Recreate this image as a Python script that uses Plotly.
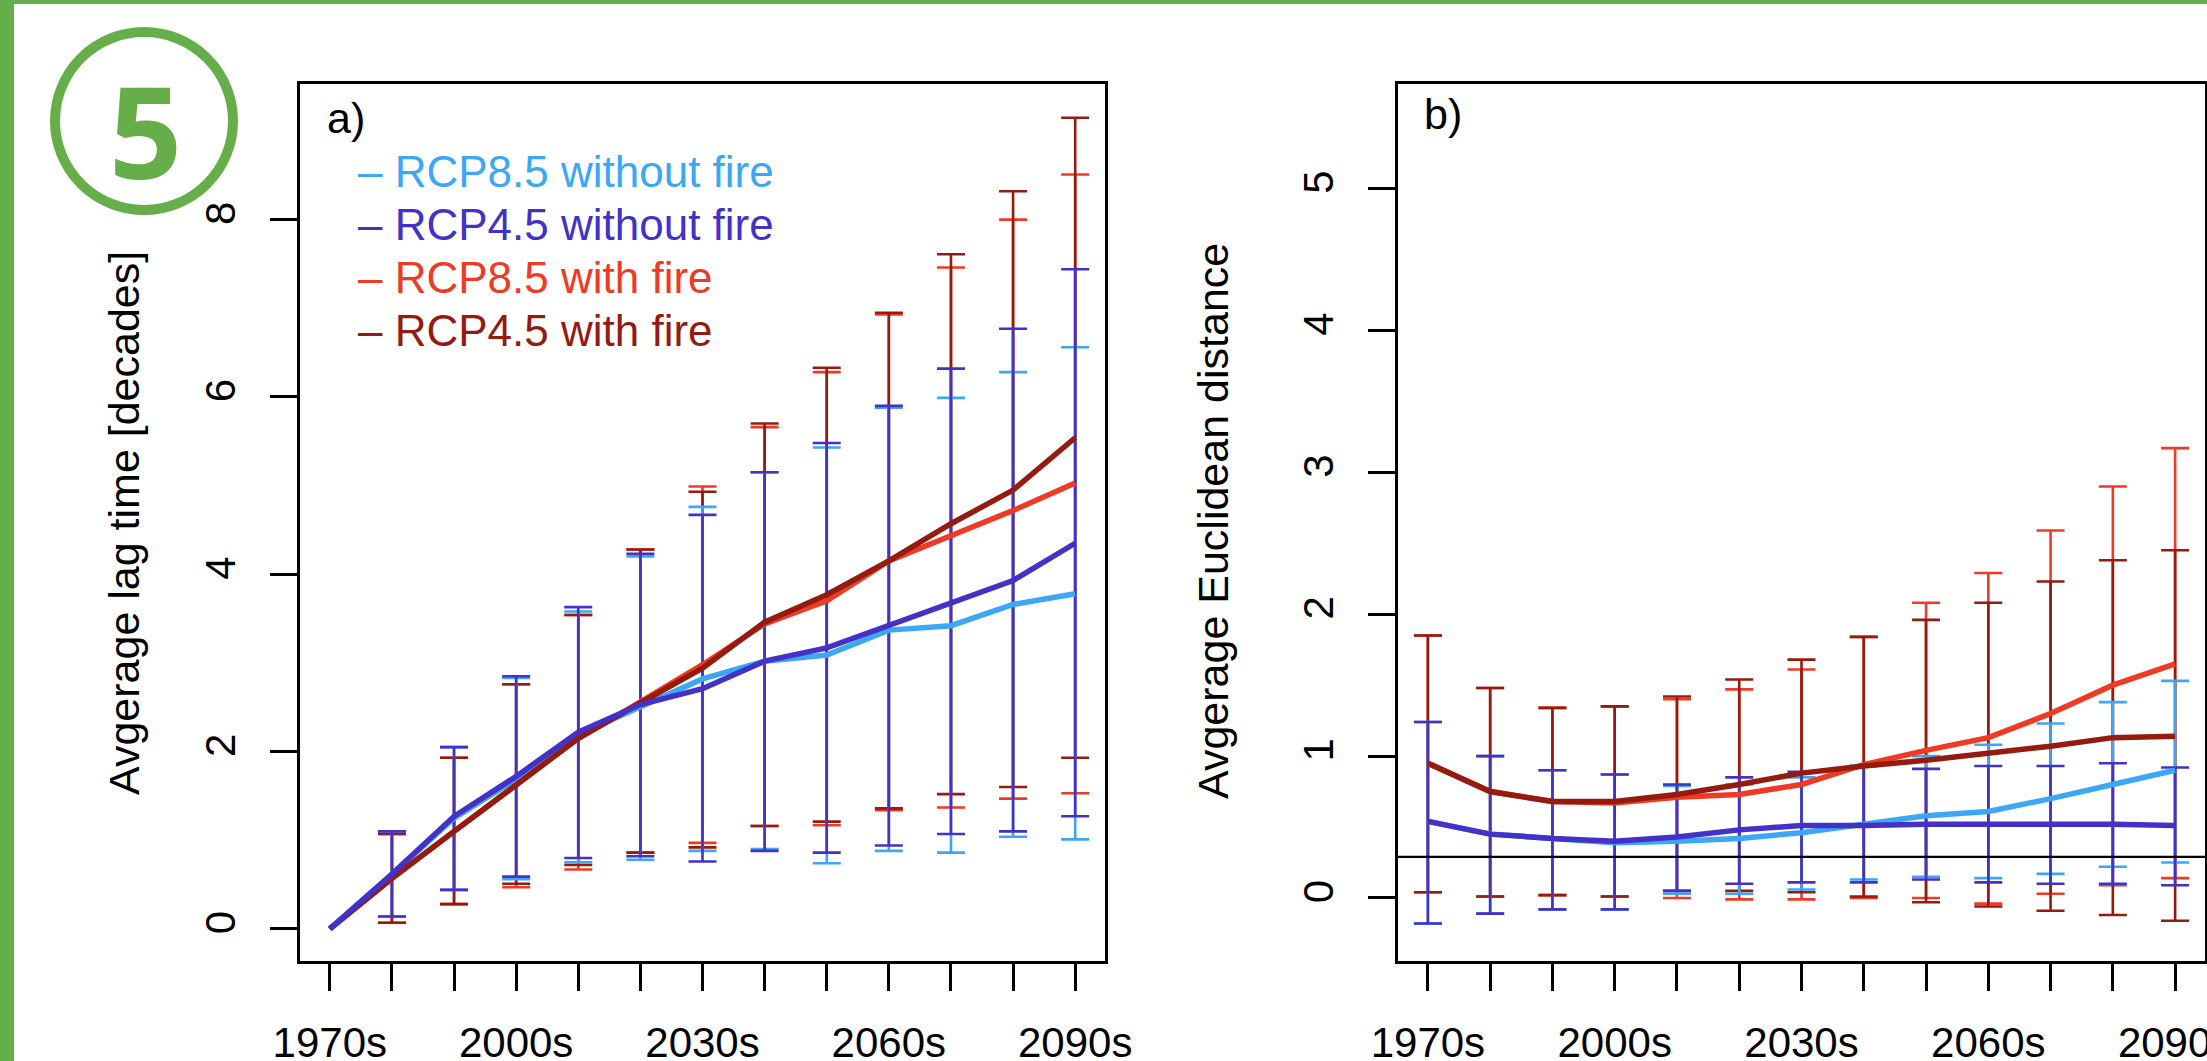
import plotly.graph_objects as go

W, H = 2207, 1061

decades = ["1970s", "1980s", "1990s", "2000s", "2010s", "2020s", "2030s",
           "2040s", "2050s", "2060s", "2070s", "2080s", "2090s"]
shown_labels = ["1970s", "2000s", "2030s", "2060s", "2090s"]

series_names = ["RCP8.5 without fire", "RCP4.5 without fire",
                "RCP8.5 with fire", "RCP4.5 with fire"]
series_colors = ["#3BA7F6", "#4331C8", "#F03A24", "#951B10"]

# ---- panel a: average lag time [decades] ----
lag_rcp85_nofire = [0, 0.61, 1.25, 1.69, 2.19, 2.51, 2.82, 3.02, 3.09, 3.37, 3.42, 3.66, 3.78]
lag_rcp45_nofire = [0, 0.62, 1.27, 1.72, 2.22, 2.53, 2.71, 3.02, 3.17, 3.42, 3.68, 3.93, 4.35]
lag_rcp85_fire = [0, 0.57, 1.10, 1.62, 2.15, 2.56, 2.98, 3.44, 3.70, 4.15, 4.43, 4.72, 5.03]
lag_rcp45_fire = [0, 0.57, 1.10, 1.62, 2.15, 2.55, 2.94, 3.46, 3.77, 4.15, 4.57, 4.95, 5.54]

lag_up_rcp85_nofire = [None, 1.10, 2.05, 2.83, 3.58, 4.20, 4.76, 5.15, 5.43, 5.88, 5.99, 6.28, 6.56]
lag_up_rcp45_nofire = [None, 1.10, 2.05, 2.85, 3.63, 4.23, 4.67, 5.15, 5.48, 5.90, 6.32, 6.77, 7.44]
lag_up_rcp85_fire = [None, 1.07, 1.93, 2.76, 3.54, 4.28, 4.99, 5.66, 6.28, 6.93, 7.46, 8.00, 8.51]
lag_up_rcp45_fire = [None, 1.07, 1.93, 2.76, 3.54, 4.28, 4.93, 5.70, 6.33, 6.95, 7.61, 8.32, 9.15]

lag_lo_rcp85_nofire = [None, 0.14, 0.44, 0.56, 0.75, 0.78, 0.88, 0.90, 0.74, 0.88, 0.86, 1.04, 1.01]
lag_lo_rcp45_nofire = [None, 0.14, 0.44, 0.59, 0.80, 0.82, 0.76, 0.88, 0.86, 0.94, 1.07, 1.10, 1.27]
lag_lo_rcp85_fire = [None, 0.07, 0.28, 0.47, 0.67, 0.86, 0.97, 1.16, 1.17, 1.34, 1.37, 1.47, 1.53]
lag_lo_rcp45_fire = [None, 0.07, 0.28, 0.51, 0.72, 0.86, 0.92, 1.16, 1.21, 1.36, 1.52, 1.60, 1.93]

# ---- panel b: average Euclidean distance ----
dist_rcp85_nofire = [0.54, 0.45, 0.42, 0.39, 0.40, 0.42, 0.46, 0.52, 0.58, 0.61, 0.70, 0.80, 0.90]
dist_rcp45_nofire = [0.54, 0.45, 0.42, 0.40, 0.43, 0.48, 0.51, 0.51, 0.52, 0.52, 0.52, 0.52, 0.51]
dist_rcp85_fire = [0.95, 0.75, 0.68, 0.67, 0.71, 0.73, 0.80, 0.94, 1.04, 1.13, 1.30, 1.50, 1.65]
dist_rcp45_fire = [0.95, 0.75, 0.68, 0.68, 0.73, 0.80, 0.88, 0.93, 0.97, 1.02, 1.07, 1.13, 1.14]

dist_up_rcp85_nofire = [1.24, 1.00, 0.90, 0.87, 0.79, 0.80, 0.85, 0.93, 1.00, 1.08, 1.23, 1.38, 1.53]
dist_up_rcp45_nofire = [1.24, 1.00, 0.90, 0.87, 0.80, 0.85, 0.89, 0.93, 0.91, 0.93, 0.93, 0.95, 0.92]
dist_up_rcp85_fire = [1.85, 1.48, 1.34, 1.35, 1.40, 1.47, 1.61, 1.84, 2.08, 2.29, 2.59, 2.90, 3.17]
dist_up_rcp45_fire = [1.85, 1.48, 1.34, 1.35, 1.42, 1.54, 1.68, 1.84, 1.96, 2.08, 2.23, 2.38, 2.45]

dist_lo_rcp85_nofire = [-0.18, -0.11, -0.08, -0.08, 0.03, 0.03, 0.06, 0.13, 0.15, 0.14, 0.17, 0.22, 0.25]
dist_lo_rcp45_nofire = [-0.18, -0.11, -0.08, -0.08, 0.05, 0.10, 0.11, 0.11, 0.13, 0.11, 0.10, 0.10, 0.09]
dist_lo_rcp85_fire = [0.04, 0.01, 0.02, 0.01, 0.00, -0.01, -0.01, 0.00, 0.00, -0.04, 0.03, 0.09, 0.14]
dist_lo_rcp45_fire = [0.04, 0.01, 0.02, 0.01, 0.05, 0.05, 0.04, 0.01, -0.03, -0.06, -0.09, -0.12, -0.16]

dist_reference_level = 0.29

FONT = "Liberation Sans, Arial, Helvetica, sans-serif"
GREEN = "#66AE4A"

xidx = list(range(len(decades)))
ticktext = [d if d in shown_labels else "" for d in decades]

panel_a = dict(
    means=[lag_rcp85_nofire, lag_rcp45_nofire, lag_rcp85_fire, lag_rcp45_fire],
    ups=[lag_up_rcp85_nofire, lag_up_rcp45_nofire, lag_up_rcp85_fire, lag_up_rcp45_fire],
    los=[lag_lo_rcp85_nofire, lag_lo_rcp45_nofire, lag_lo_rcp85_fire, lag_lo_rcp45_fire],
)
panel_b = dict(
    means=[dist_rcp85_nofire, dist_rcp45_nofire, dist_rcp85_fire, dist_rcp45_fire],
    ups=[dist_up_rcp85_nofire, dist_up_rcp45_nofire, dist_up_rcp85_fire, dist_up_rcp45_fire],
    los=[dist_lo_rcp85_nofire, dist_lo_rcp45_nofire, dist_lo_rcp85_fire, dist_lo_rcp45_fire],
)

fig = go.Figure()

err_order = [2, 3, 0, 1]   # red, dark red, light blue, blue (blue on top)
line_order = [0, 2, 3, 1]

for panel, xa, ya in [(panel_a, "x", "y"), (panel_b, "x2", "y2")]:
    for k in err_order:
        m, u, lo = panel["means"][k], panel["ups"][k], panel["los"][k]
        keep = [i for i in xidx if u[i] is not None and lo[i] is not None]
        fig.add_trace(go.Scatter(
            x=[xidx[i] for i in keep], y=[m[i] for i in keep],
            mode="markers", marker=dict(size=1, opacity=0, color=series_colors[k]),
            error_y=dict(type="data", symmetric=False,
                         array=[u[i] - m[i] for i in keep],
                         arrayminus=[m[i] - lo[i] for i in keep],
                         color=series_colors[k], thickness=2.6, width=14),
            xaxis=xa, yaxis=ya, showlegend=False, hoverinfo="skip"))
    for k in line_order:
        fig.add_trace(go.Scatter(
            x=xidx, y=panel["means"][k], mode="lines",
            line=dict(color=series_colors[k], width=5.5),
            name=series_names[k], xaxis=xa, yaxis=ya, showlegend=False))

ydom = [1 - 961 / H, 1 - 84 / H]
xa_dom = [300 / W, 1105 / W]
xb_dom = [1398 / W, 2205 / W]

axis_common = dict(showgrid=False, zeroline=False, showline=True, mirror=True,
                   automargin=False, ticklabeloverflow="allow",
                   linecolor="black", linewidth=2.5, ticks="outside", ticklen=27,
                   tickwidth=2.5, tickcolor="black",
                   tickfont=dict(family=FONT, size=42, color="black"))

xaxis_common = dict(axis_common, range=[-0.48, 12.48], tickmode="array",
                    tickvals=xidx, ticktext=ticktext, ticklabelstandoff=16)

fig.update_layout(
    template="none",
    width=W, height=H, margin=dict(l=0, r=0, t=0, b=0, autoexpand=False),
    paper_bgcolor="white", plot_bgcolor="white", showlegend=False,
    xaxis=dict(xaxis_common, domain=xa_dom, anchor="y"),
    xaxis2=dict(xaxis_common, domain=xb_dom, anchor="y2"),
    yaxis=dict(axis_common, domain=ydom, anchor="x", range=[-0.362, 9.53],
               tickvals=[0, 2, 4, 6, 8], tickangle=-90, ticklabelstandoff=18),
    yaxis2=dict(axis_common, domain=ydom, anchor="x2", range=[-0.444, 5.736],
                tickvals=[0, 1, 2, 3, 4, 5], tickangle=-90, ticklabelstandoff=18),
)

# reference level line in panel b
fig.add_shape(type="line", xref="x2 domain", yref="y2", x0=0, x1=1,
              y0=dist_reference_level, y1=dist_reference_level,
              line=dict(color="black", width=2.2))

# green frame and circled number
fig.add_shape(type="rect", xref="paper", yref="paper", x0=0, x1=14 / W, y0=0, y1=1,
              fillcolor=GREEN, line=dict(width=0), layer="above")
fig.add_shape(type="rect", xref="paper", yref="paper", x0=0, x1=1, y0=1 - 4 / H, y1=1,
              fillcolor=GREEN, line=dict(width=0), layer="above")
cx, cy, r = 144, 121, 89
fig.add_shape(type="circle", xref="paper", yref="paper",
              x0=(cx - r) / W, x1=(cx + r) / W, y0=1 - (cy + r) / H, y1=1 - (cy - r) / H,
              line=dict(color=GREEN, width=10))

annotations = []
annotations.append(dict(text="<b>5</b>", x=(cx + 1) / W, y=1 - 129 / H, xref="paper", yref="paper",
                        showarrow=False, font=dict(family="Open Sans, sans-serif", size=128, color=GREEN),
                        xanchor="center", yanchor="middle"))
annotations.append(dict(text="a)", x=325 / W, y=1 - 118 / H, xref="paper", yref="paper",
                        showarrow=False, xanchor="left", yanchor="middle",
                        font=dict(family=FONT, size=43, color="black")))
annotations.append(dict(text="b)", x=1422 / W, y=1 - 114 / H, xref="paper", yref="paper",
                        showarrow=False, xanchor="left", yanchor="middle",
                        font=dict(family=FONT, size=43, color="black")))
annotations.append(dict(text="Avgerage lag time [decades]", x=124 / W, y=1 - 523 / H,
                        xref="paper", yref="paper", showarrow=False, textangle=-90,
                        xanchor="center", yanchor="middle",
                        font=dict(family=FONT, size=43, color="black")))
annotations.append(dict(text="Avgerage Euclidean distance", x=1213 / W, y=1 - 521 / H,
                        xref="paper", yref="paper", showarrow=False, textangle=-90,
                        xanchor="center", yanchor="middle",
                        font=dict(family=FONT, size=43, color="black")))
legend_rows_y = [171, 224, 277, 330]
for k, yy in enumerate(legend_rows_y):
    annotations.append(dict(text="\u2013 " + series_names[k], x=356 / W, y=1 - yy / H,
                            xref="paper", yref="paper", showarrow=False,
                            xanchor="left", yanchor="middle",
                            font=dict(family=FONT, size=44, color=series_colors[k])))
fig.update_layout(annotations=annotations)

fig.write_html("out.html", config={"displayModeBar": False},
               post_script="document.body.style.margin='0';document.body.style.overflow='hidden';")
